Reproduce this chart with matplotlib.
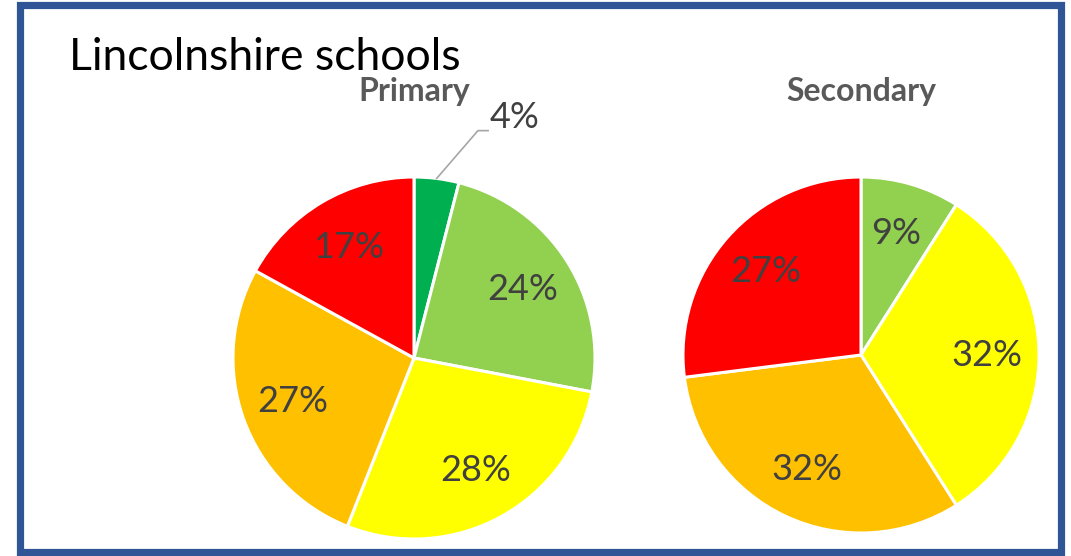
import numpy as np
import matplotlib
matplotlib.use('Agg')
import matplotlib.pyplot as plt
from matplotlib.patches import Rectangle

plt.rcParams['font.family'] = ['Lato', 'DejaVu Sans']

# data
categories = ['Outstanding', 'Good', 'Requires improvement', 'Inadequate low', 'Inadequate']
colors = ['#00B050', '#92D050', '#FFFF00', '#FFC000', '#FF0000']
primary = [4, 24, 28, 27, 17]
secondary = [0, 9, 32, 32, 27]

W, H = 1071, 556
fig = plt.figure(figsize=(W / 100, H / 100), dpi=100)

# blue frame round the whole picture
fig.patches.append(Rectangle((19.5 / W, 1 - 551.5 / H), 1041 / W, 547 / H,
                             transform=fig.transFigure, fill=False,
                             edgecolor='#2F5597', linewidth=5.2))

fig.text(69 / W, 1 - 58 / H, 'Lincolnshire schools', fontsize=32,
         va='center', ha='left', color='black')


def draw_pie(cx, cy, r, values, title, outside=()):
    ax = fig.add_axes([(cx - r) / W, 1 - (cy + r) / H, 2 * r / W, 2 * r / H])
    vals = [v for v in values if v > 0]
    cols = [c for v, c in zip(values, colors) if v > 0]
    wedges, _ = ax.pie(vals, colors=cols, startangle=90, counterclock=False,
                       wedgeprops=dict(edgecolor='white', linewidth=2.2))
    ax.set_xlim(-1, 1)
    ax.set_ylim(-1, 1)
    ax.set_aspect('equal')
    ax.axis('off')
    for w, v in zip(wedges, vals):
        mid = np.deg2rad((w.theta1 + w.theta2) / 2)
        if v in outside:
            # label pulled out of the thin slice with a leader line
            x0, y0 = np.cos(mid), np.sin(mid)
            ax.plot([x0, x0 + 0.228, x0 + 0.284], [y0, y0 + 0.264, y0 + 0.264],
                    color='#A6A6A6', lw=1.2, clip_on=False)
            ax.text(x0 + 0.295, y0 + 0.336, f'{v}%', fontsize=26, color='#404040',
                    ha='left', va='center', clip_on=False)
        else:
            ax.text(0.71 * np.cos(mid), 0.71 * np.sin(mid), f'{v}%', fontsize=26,
                    color='#404040', ha='center', va='center')
    fig.text(cx / W, 1 - 92 / H, title, fontsize=23, fontweight='bold',
             color='#595959', ha='center', va='center')


draw_pie(414, 358, 181, primary, 'Primary', outside=(4,))
draw_pie(861, 355, 178, secondary, 'Secondary')

plt.savefig('out.png', dpi=100)
